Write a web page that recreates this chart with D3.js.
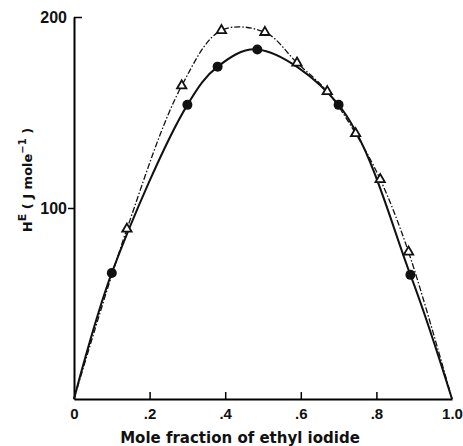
<!DOCTYPE html>
<meta charset="utf-8">
<script src="https://d3js.org/d3.v7.min.js"></script>
<style>
  body { margin: 0; background: #fff; }
  text { font-family: "Liberation Sans", Arial, sans-serif; font-weight: bold; fill: #111; }
  .title { font-family: "DejaVu Sans", sans-serif; }
</style>
<body>
<div id="canvas"></div>
<script>
// HE data
var circleX = [0, 0.10, 0.30, 0.38, 0.485, 0.70, 0.89, 1.0];
var circleY = [0, 66, 154, 174, 183, 154, 65, 0];
var triX = [0, 0.14, 0.285, 0.39, 0.505, 0.59, 0.67, 0.745, 0.81, 0.885, 1.0];
var triY = [0, 89, 164, 193, 192, 176, 161, 139, 115, 77, 0];
var xTicks = [0, 0.2, 0.4, 0.6, 0.8, 1.0];
var xTickLabels = ["0", ".2", ".4", ".6", ".8", "1.0"];
var yTicks = [100, 200];

var width = 463, height = 446;

var svg = d3.select("#canvas").append("svg")
    .attr("width", width)
    .attr("height", height);

var x = d3.scaleLinear().domain([0, 1]).range([74, 452]);
var y = d3.scaleLinear().domain([0, 200]).range([399, 17]);

// x axis, ticks pointing up into the plot
var xAxis = svg.append("g")
    .attr("transform", "translate(0," + y(0) + ")")
    .call(d3.axisBottom(x)
        .tickValues(xTicks)
        .tickSize(-7)
        .tickSizeOuter(0)
        .tickPadding(9)
        .tickFormat(function(d, i) { return xTickLabels[i]; }));
xAxis.select(".domain").attr("stroke-width", 2);
xAxis.selectAll(".tick line").attr("stroke-width", 1.5)
    .attr("display", function(d) { return (d === 0 || d === 1) ? "none" : null; });
xAxis.selectAll(".tick text").style("font-size", "15px").attr("dy", "0.75em");

// y axis
var yAxis = svg.append("g")
    .attr("transform", "translate(" + x(0) + ",0)")
    .call(d3.axisLeft(y)
        .tickValues(yTicks)
        .tickSize(6)
        .tickSizeOuter(0)
        .tickPadding(1)
        .tickFormat(d3.format("d")));
yAxis.select(".domain").attr("stroke-width", 2);
yAxis.selectAll(".tick line").attr("stroke-width", 1.5)
    .attr("x2", function(d) { return d === 200 ? 8 : -6; });
yAxis.selectAll(".tick text").style("font-size", "16px");

// curves
var line = d3.line().curve(d3.curveCatmullRom.alpha(0.5));

svg.append("path")
    .datum(triX.map(function(d, i) { return [x(d), y(triY[i])]; }))
    .attr("d", line)
    .attr("fill", "none")
    .attr("stroke", "#111")
    .attr("stroke-width", 1.3)
    .attr("stroke-dasharray", "6,2,1.5,2");

svg.append("path")
    .datum(circleX.map(function(d, i) { return [x(d), y(circleY[i])]; }))
    .attr("d", line)
    .attr("fill", "none")
    .attr("stroke", "#111")
    .attr("stroke-width", 2);

// markers (skip end points at 0 and 1)
var tri = d3.symbol().type(d3.symbolTriangle).size(38);
svg.selectAll(".tri")
    .data(triX.slice(1, -1))
    .enter().append("path")
    .attr("class", "tri")
    .attr("d", tri)
    .attr("transform", function(d, i) { return "translate(" + x(d) + "," + y(triY[i + 1]) + ")"; })
    .attr("fill", "#fff")
    .attr("stroke", "#111")
    .attr("stroke-width", 1.8);

svg.selectAll(".dot")
    .data(circleX.slice(1, -1))
    .enter().append("circle")
    .attr("class", "dot")
    .attr("cx", function(d) { return x(d); })
    .attr("cy", function(d, i) { return y(circleY[i + 1]); })
    .attr("r", 5)
    .attr("fill", "#111");

// axis titles
svg.append("text")
    .attr("class", "title")
    .attr("x", 240)
    .attr("y", 443)
    .attr("text-anchor", "middle")
    .style("font-size", "15px")
    .text("Mole fraction of ethyl iodide");

var yl = svg.append("text")
    .attr("class", "title")
    .attr("transform", "translate(32,180) rotate(-90)")
    .attr("text-anchor", "middle")
    .style("font-size", "13px");
yl.append("tspan").text("H");
yl.append("tspan").attr("dy", "-6").style("font-size", "11px").text("E");
yl.append("tspan").attr("dy", "6").text(" ( J mole");
yl.append("tspan").attr("dy", "-6").style("font-size", "10px").text("−1");
yl.append("tspan").attr("dy", "6").text(" )");
</script>
</body>
